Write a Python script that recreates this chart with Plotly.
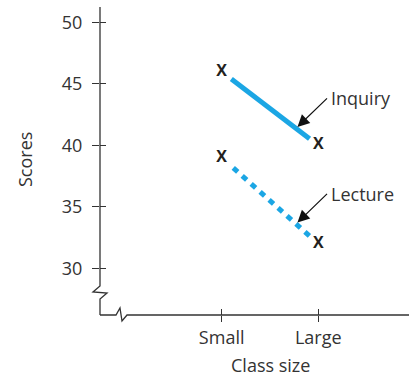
import plotly.graph_objects as go

# data
class_sizes = ["Small", "Large"]
x_pos = [1, 2]
inquiry = [46, 40]
lecture = [39, 32]
y_ticks = [30, 35, 40, 45, 50]

W, H = 409, 384
L, R, T, B = 100, 0, 7, 69
pw, ph = W - L - R, H - T - B
INK = "#333333"
BLUE = "#1ba6e4"
FONT = "Open Sans"


def pp(x, y):
    # pixel -> paper coords
    return "%.4f,%.4f" % ((x - L) / pw, (H - B - y) / ph)


def seg(vals, f0, f1):
    xs = [x_pos[0] + f0 * (x_pos[1] - x_pos[0]), x_pos[0] + f1 * (x_pos[1] - x_pos[0])]
    ys = [vals[0] + f0 * (vals[1] - vals[0]), vals[0] + f1 * (vals[1] - vals[0])]
    return xs, ys


fig = go.Figure()

xs, ys = seg(inquiry, 0.10, 0.91)
fig.add_trace(go.Scatter(x=xs, y=ys, mode="lines", line=dict(color=BLUE, width=5)))
xs, ys = seg(lecture, 0.12, 0.91)
fig.add_trace(go.Scatter(x=xs, y=ys, mode="lines",
                         line=dict(color=BLUE, width=5, dash="6px,6px")))

for vals in (inquiry, lecture):
    fig.add_trace(go.Scatter(x=x_pos, y=vals, mode="text", text=["X", "X"],
                             textfont=dict(family=FONT, size=16, color="#231f20", weight="bold")))

# invisible trace so overlay axes get drawn
fig.add_trace(go.Scatter(x=[1], y=[40], xaxis="x2", yaxis="y2", mode="markers",
                         marker=dict(opacity=0)))

# arrows + labels
for vals, f, label in ((inquiry, 0.77, "Inquiry"), (lecture, 0.77, "Lecture")):
    xs, ys = seg(vals, f, f)
    fig.add_annotation(x=xs[0], y=ys[0], text=label, showarrow=True, ax=31, ay=-30,
                       xanchor="left", yanchor="middle", arrowhead=2, arrowsize=2,
                       arrowwidth=1.2, arrowcolor="#111", standoff=2, borderpad=3,
                       font=dict(family=FONT, size=18, color=INK))

fig.add_annotation(x=(270 - L) / pw, y=(H - B - 365) / ph, xref="paper", yref="paper",
                   xanchor="center", yanchor="middle",
                   text="Class size", showarrow=False,
                   font=dict(family=FONT, size=18, color=INK))
fig.add_annotation(x=(25 - L) / pw, y=(H - B - 160) / ph, xref="paper", yref="paper",
                   xanchor="center", yanchor="middle",
                   text="Scores", textangle=-90, showarrow=False,
                   font=dict(family=FONT, size=18, color=INK))

# axis lines with breaks
yaxis_path = "M" + " L".join([pp(100, 7), pp(100, 286), pp(93, 292), pp(107, 293),
                              pp(100, 299), pp(100, 315)])
xaxis_path = "M" + " L".join([pp(100, 315), pp(116, 315), pp(120, 308), pp(122, 321),
                              pp(127, 315), pp(409, 315)])
for p in (yaxis_path, xaxis_path):
    fig.add_shape(type="path", path=p, xref="paper", yref="paper",
                  line=dict(color=INK, width=1.3))

xr = [-0.26, 2.94]
yr = [26.2, 51.25]
tick_common = dict(showgrid=False, zeroline=False, showline=False,
                   tickcolor=INK, tickwidth=1.3)
fig.update_layout(
    width=W, height=H, margin=dict(l=L, r=R, t=T, b=B),
    showlegend=False, plot_bgcolor="white", paper_bgcolor="white",
    xaxis=dict(range=xr, tickvals=x_pos, ticktext=class_sizes, ticks="outside",
               ticklen=6, tickfont=dict(family=FONT, size=18, color=INK), **tick_common),
    yaxis=dict(range=yr, tickvals=y_ticks, ticks="outside", ticklen=7,
               ticklabelstandoff=6,
               tickfont=dict(family=FONT, size=18, color=INK), **tick_common),
    xaxis2=dict(range=xr, tickvals=x_pos, ticks="inside", ticklen=6, overlaying="x",
                side="bottom", anchor="y2", showticklabels=False, **tick_common),
    yaxis2=dict(range=yr, tickvals=y_ticks, ticks="inside", ticklen=6, overlaying="y",
                side="left", anchor="x2", showticklabels=False, **tick_common),
)

fig.write_html("out.html", config={"displayModeBar": False},
               post_script="document.body.style.margin='0';")
